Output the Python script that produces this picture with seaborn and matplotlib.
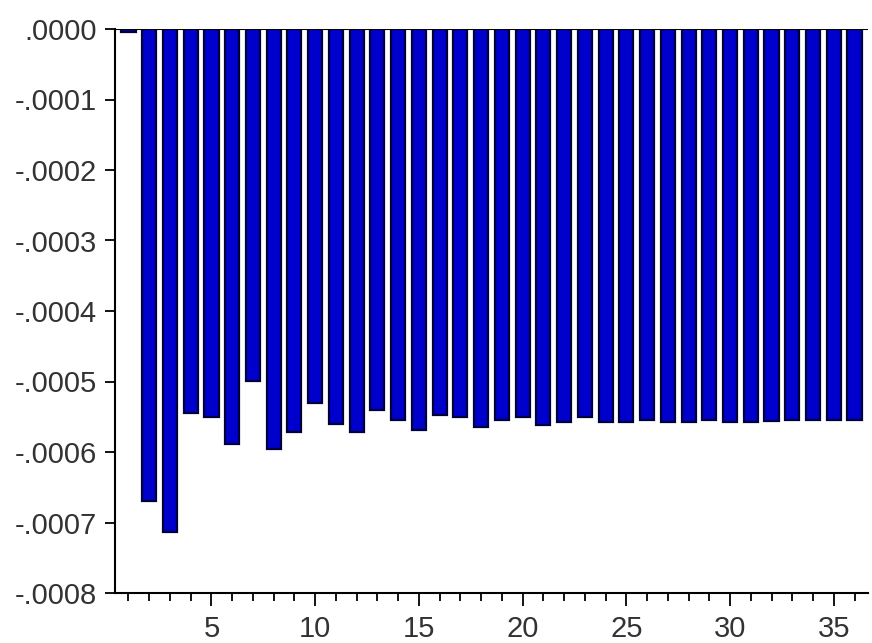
import numpy as np
import pandas as pd
import matplotlib
matplotlib.use("Agg")
import matplotlib.pyplot as plt
import seaborn as sns
from matplotlib.ticker import FixedLocator, FuncFormatter

periods = list(range(1, 37))
values = [
    -0.000004, -0.000669, -0.000714, -0.000544, -0.000551, -0.000589,
    -0.000499, -0.000596, -0.000572, -0.000530, -0.000560, -0.000572,
    -0.000540, -0.000555, -0.000569, -0.000548, -0.000551, -0.000565,
    -0.000555, -0.000551, -0.000561, -0.000558, -0.000551, -0.000557,
    -0.000557, -0.000555, -0.000557, -0.000557, -0.000555, -0.000558,
    -0.000557, -0.000556, -0.000555, -0.000555, -0.000555, -0.000555,
]
ytick_values = [0.0, -0.0001, -0.0002, -0.0003, -0.0004, -0.0005, -0.0006, -0.0007, -0.0008]
xtick_major = [5, 10, 15, 20, 25, 30, 35]

df = pd.DataFrame({"period": periods, "value": values})

sns.set_style("white")
plt.rcParams["font.family"] = ["Liberation Sans", "DejaVu Sans"]

fig = plt.figure(figsize=(8.72, 6.43), dpi=100)
ax = fig.add_axes([115 / 872, 1 - 593 / 643, (868 - 115) / 872, (593 - 29) / 643])

sns.barplot(data=df, x="period", y="value", native_scale=True, width=0.68,
            color="#0000CC", edgecolor="#00003A", linewidth=1.6,
            saturation=1, ax=ax, errorbar=None)

ax.axhline(0, color="black", lw=1.5, zorder=5)
ax.set_xlim(0.35, 36.65)
ax.set_ylim(-0.0008, 0.0)

ax.yaxis.set_major_locator(FixedLocator(ytick_values))
def yfmt(v, pos):
    s = f"{v:.4f}"
    s = s.replace("0.", ".")
    if s == "-.0000":
        s = ".0000"
    return s
ax.yaxis.set_major_formatter(FuncFormatter(yfmt))

ax.xaxis.set_major_locator(FixedLocator(xtick_major))
ax.xaxis.set_minor_locator(FixedLocator(periods))
ax.xaxis.set_major_formatter(FuncFormatter(lambda v, p: f"{int(v)}"))

ax.set_xlabel("")
ax.set_ylabel("")

for s in ["top", "right"]:
    ax.spines[s].set_visible(False)
for s in ["left", "bottom"]:
    ax.spines[s].set_color("black")
    ax.spines[s].set_linewidth(1.5)

ax.tick_params(axis="y", which="major", direction="out", length=7, width=1.3,
               color="black", labelsize=21, pad=6, left=True)
ax.tick_params(axis="x", which="major", direction="out", length=9.5, width=1.3,
               color="black", labelsize=21, pad=6, bottom=True)
ax.tick_params(axis="x", which="minor", direction="out", length=5.5, width=1.3,
               color="black", bottom=True)
for lbl in ax.get_xticklabels() + ax.get_yticklabels():
    lbl.set_color("#333333")

fig.savefig("out.png", dpi=100)
